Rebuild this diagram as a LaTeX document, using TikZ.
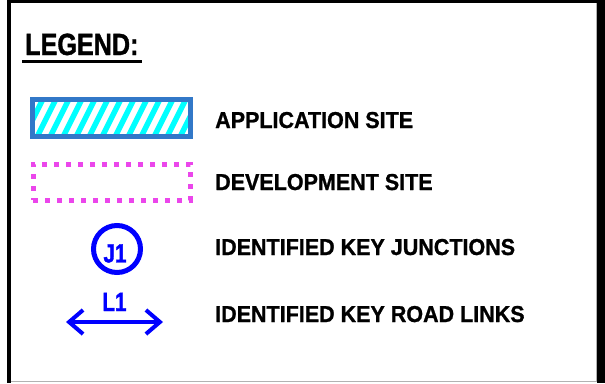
\documentclass[tikz,border=0pt]{standalone}
\usepackage{fontspec}
\usetikzlibrary{arrows.meta, positioning}
\newfontfamily\itemfont{Liberation Sans}[FakeStretch=0.935, FakeBold=1]
\newfontfamily\titlefont{Liberation Sans}[FakeStretch=0.82, FakeBold=1.2]
\newfontfamily\tagfont{Liberation Sans}[FakeStretch=0.78, FakeBold=1.2]
\definecolor{SiteBlue}{RGB}{50,120,200}
\definecolor{SiteCyan}{RGB}{0,255,255}
\definecolor{DevMagenta}{RGB}{235,70,235}
\definecolor{KeyBlue}{RGB}{0,0,255}
\tikzset{
  legendtitle/.style={inner sep=0, anchor=base west, font=\titlefont\bfseries\fontsize{30.7}{32}\selectfont},
  itemtext/.style={inner sep=0, anchor=base west, font=\itemfont\bfseries\fontsize{23}{25}\selectfont},
  tagtext/.style={inner sep=0, text=KeyBlue, font=\tagfont\bfseries\fontsize{26.5}{28}\selectfont},
  appsite/.style={rectangle, draw=SiteBlue, line width=5pt, minimum width=158pt, minimum height=37pt, inner sep=0,
    path picture={\foreach \k in {-8,...,8} \draw[SiteCyan, line width=5.5pt] ([xshift=\k*13pt]path picture bounding box.center) +(-12pt,-24pt) -- +(12pt,24pt);}},
  devsite/.style={rectangle, draw=DevMagenta, line width=5pt, dash pattern=on 5pt off 7pt, minimum width=157pt, minimum height=36pt, inner sep=0},
  junction/.style={circle, draw=KeyBlue, line width=5pt, minimum size=47pt, inner sep=0},
  roadlink/.style={draw=KeyBlue, line width=4pt, {Straight Barb[length=14pt, width=24pt]}-{Straight Barb[length=14pt, width=24pt]}}
}
\begin{document}
\begin{tikzpicture}[x=1pt, y=-1pt]
  \useasboundingbox (0,0) rectangle (605,383);
  \fill[white] (0,0) rectangle (605,383);
  % frame
  \draw[line width=4.5pt] (9,0) -- (9,383);
  \draw[line width=3pt] (7,1.5) -- (605,1.5);
  \draw[line width=8pt] (601,0) -- (601,383);
  \draw[gray!60, line width=1pt] (11,381.5) -- (597,381.5);
  \draw[gray!60] (596.5,3) -- (596.5,381);

  \node (legend) [legendtitle] at (25,55) {LEGEND:};
  \draw[line width=3pt] ([shift={(-3pt,-6.5pt)}]legend.base west) -- ([shift={(3pt,-6.5pt)}]legend.base east);

  \node (appsite) [appsite] at (111.5,118) {};
  \node (apptext) [itemtext] at (215,128) {APPLICATION SITE};

  \node (devsite) [devsite] at (111.5,182) {};
  \node (devtext) [itemtext] at (215,190) {DEVELOPMENT SITE};

  \node (junction) [junction] at (117,249) {};
  \node (jlabel) [tagtext] at ([shift={(-2pt,-4.5pt)}]junction.center) {J1};
  \node (jtext) [itemtext] at (215,255) {IDENTIFIED KEY JUNCTIONS};

  \coordinate (linkw) at (66,322);
  \coordinate (linke) at (163,322);
  \draw[roadlink] (linkw) -- (linke) node (llabel) [tagtext, midway, above=9pt] {L1};
  \node (ltext) [itemtext] at (215,322) {IDENTIFIED KEY ROAD LINKS};
\end{tikzpicture}
\end{document}
